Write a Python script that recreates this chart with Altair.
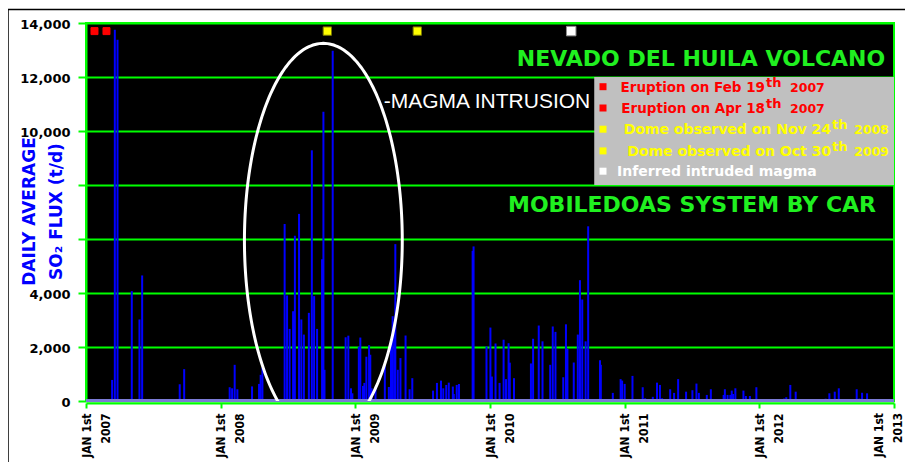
import altair as alt
import pandas as pd
import numpy as np

# ---------------- data ----------------
years = [2007.194, 2007.214, 2007.234, 2007.340, 2007.397, 2007.417, 2007.696, 2007.729, 2008.067, 2008.085,
         2008.104, 2008.124, 2008.233, 2008.285, 2008.297, 2008.310, 2008.475, 2008.493, 2008.512, 2008.538,
         2008.551, 2008.582, 2008.599, 2008.618, 2008.655, 2008.677, 2008.694, 2008.716, 2008.753, 2008.763,
         2008.771, 2008.832, 2008.928, 2008.948, 2008.968, 2008.978, 2009.026, 2009.037, 2009.057, 2009.067,
         2009.082, 2009.102, 2009.111, 2009.121, 2009.150, 2009.219, 2009.249, 2009.265, 2009.277, 2009.289,
         2009.297, 2009.315, 2009.335, 2009.373, 2009.403, 2009.423, 2009.577, 2009.606, 2009.636, 2009.653,
         2009.675, 2009.694, 2009.724, 2009.731, 2009.753, 2009.770, 2009.871, 2009.878, 2009.974, 2010.003,
         2010.014, 2010.041, 2010.071, 2010.101, 2010.119, 2010.138, 2010.147, 2010.178, 2010.304, 2010.320,
         2010.362, 2010.390, 2010.447, 2010.466, 2010.486, 2010.544, 2010.564, 2010.575, 2010.622, 2010.652,
         2010.668, 2010.685, 2010.710, 2010.729, 2010.817, 2010.823, 2010.912, 2010.970, 2010.981, 2011.000,
         2011.058, 2011.134, 2011.152, 2011.195, 2011.209, 2011.240, 2011.262, 2011.278, 2011.308, 2011.338,
         2011.367, 2011.397, 2011.456, 2011.503, 2011.533, 2011.551, 2011.610, 2011.640, 2011.649, 2011.735,
         2011.744, 2011.764, 2011.785, 2011.795, 2011.805, 2011.822, 2011.882, 2011.900, 2011.930, 2011.978,
         2012.184, 2012.200, 2012.230, 2012.270, 2012.432, 2012.492, 2012.520, 2012.560, 2012.590, 2012.723,
         2012.743, 2012.763, 2012.800]

flux = [780, 13750, 13380, 4070, 3020, 4650, 620, 1180, 510, 470,
        1340, 435, 540, 633, 970, 1240, 6555, 3910, 2670, 3325,
        6120, 6930, 3020, 2460, 3265, 9285, 3885, 2670, 5250, 10715,
        1155, 12970, 2360, 2420, 470, 285, 2010, 2350, 560, 670,
        1640, 2070, 1713, 470, 535, 1370, 520, 2270, 3140, 2915,
        5810, 1155, 1590, 2425, 435, 845, 385, 670, 755, 470,
        595, 680, 535, 260, 595, 630, 5560, 5725, 2025, 2720,
        905, 2130, 670, 2270, 810, 2140, 1420, 845, 1390, 2305,
        2795, 2210, 1340, 2760, 2560, 880, 2840, 1925, 1425, 2460,
        4475, 3760, 2210, 6470, 1510, 1340, 300, 810, 755, 633,
        930, 510, 100, 75, 155, 680, 595, 100, 75, 435,
        300, 810, 345, 400, 645, 300, 225, 435, 75, 225,
        435, 225, 225, 385, 260, 470, 385, 185, 185, 510,
        90, 140, 595, 345, 50, 85, 285, 345, 470, 435,
        90, 305, 285]

year_ticks = [2007, 2008, 2009, 2010, 2011, 2012, 2013]
flux_ticks = [0, 2000, 4000, 6000, 8000, 10000, 12000, 14000]
last_tick_label = ["JAN 1st", "2013"]

marker_years = [2007.063, 2007.152, 2008.792, 2009.460, 2010.603]
marker_kind = ["eruption", "eruption", "dome", "dome", "magma"]
marker_level = [13700, 13700, 13700, 13700, 13700]

legend_main = ["Eruption on Feb 19", "Eruption on Apr 18", "Dome observed on Nov 24",
               "Dome observed on Oct 30", "Inferred intruded magma"]
legend_sup = ["th", "th", "th", "th", ""]
legend_tail = ["2007", "2007", "2008", "2009", ""]
legend_colors = ["#ff0000", "#ff0000", "#ffff00", "#ffff00", "#ffffff"]
legend_sizes = [13.5, 13.5, 14, 14, 14]

# legend box (data coordinates) and the circled "magma intrusion" ellipse
legend_box = {"bx": 2010.774, "bx2": 2013.0, "by": 8000, "by2": 12000}
ell_center_year, ell_center_flux = 2008.7625, 5950
ell_a_year, ell_b_flux = 0.586, 7296

# ---------------- chart ----------------
W, H = 808, 378
GREEN = "#00ff00"
XFONT = "DejaVu Sans Condensed, Liberation Sans Narrow, Liberation Sans"
xs = alt.Scale(domain=[2007, 2013], nice=False, zero=False)
ys = alt.Scale(domain=[0, 14000], nice=False, zero=False)

x_axis = alt.Axis(values=year_ticks,
                  labelExpr="datum.value == 2013 ? '' : ['JAN 1st', format(datum.value, 'd')]",
                  labelAngle=270, labelAlign="right", labelBaseline="middle",
                  labelFont=XFONT, labelFontWeight="bold", labelFontSize=12, labelColor="black",
                  labelLineHeight=19, labelPadding=5, labelOverlap=False, labelFlush=False,
                  labelBound=False, tickColor=GREEN, tickSize=5, tickWidth=2,
                  domainColor=GREEN, domainWidth=2, grid=False, title="", offset=2)

y_axis = alt.Axis(values=flux_ticks,
                  labelExpr="datum.value == 6000 || datum.value == 8000 ? '' : format(datum.value, ',')",
                  labelFont="DejaVu Sans", labelFontWeight="bold", labelFontSize=13,
                  labelColor="black", labelPadding=8, labelOffset=1, labelOverlap=False,
                  tickColor=GREEN, tickSize=8, tickWidth=2, domainColor=GREEN, domainWidth=2,
                  grid=True, gridColor=GREEN, gridWidth=2,
                  title=["DAILY AVERAGE", "SO\u2082 FLUX (t/d)"], titleColor="#0000ff",
                  titleFont="DejaVu Sans", titleFontWeight="bold", titleFontSize=17,
                  titleAngle=270, titleAlign="center", titleBaseline="middle",
                  titleX=-57, titleY=188, titleLineHeight=27)

bars = alt.Chart(pd.DataFrame({"year": years, "flux": flux})).mark_rule(
    color="#0000ff", strokeWidth=2, clip=True
).encode(
    x=alt.X("year:Q", scale=xs, axis=x_axis),
    y=alt.Y("flux:Q", scale=ys, axis=y_axis),
    y2=alt.datum(0),
)

one = pd.DataFrame({"a": [0]})

baseline = alt.Chart(one).mark_rule(color="#7b7bd6", strokeWidth=3).encode(
    x=alt.value(0), x2=alt.value(W), y=alt.value(H - 0.5))

t = np.linspace(0, 2 * np.pi, 241)
ell_df = pd.DataFrame({
    "year": ell_center_year + ell_a_year * np.cos(t),
    "flux": ell_center_flux + ell_b_flux * np.sin(t),
    "i": np.arange(len(t)),
})
ellipse = alt.Chart(ell_df).mark_line(color="white", strokeWidth=3, clip=True).encode(
    x=alt.X("year:Q", scale=xs),
    y=alt.Y("flux:Q", scale=ys),
    order="i:Q",
)

box = alt.Chart(pd.DataFrame([legend_box])).mark_rect(color="#c0c0c0").encode(
    x=alt.X("bx:Q", scale=xs), x2="bx2:Q",
    y=alt.Y("by:Q", scale=ys), y2="by2:Q",
)

mk_df = pd.DataFrame({"year": marker_years, "kind": marker_kind, "flux": marker_level})
markers = alt.Chart(mk_df).mark_square(opacity=1, strokeWidth=1).encode(
    x=alt.X("year:Q", scale=xs),
    y=alt.Y("flux:Q", scale=ys),
    fill=alt.Fill("kind:N", scale=alt.Scale(domain=["eruption", "dome", "magma"],
                                            range=["#ff0000", "#ffff00", "#ffffff"]), legend=None),
    stroke=alt.Stroke("kind:N", scale=alt.Scale(domain=["eruption", "dome", "magma"],
                                                range=["#ff0000", "#7a7a00", "#909090"]), legend=None),
    size=alt.Size("kind:N", scale=alt.Scale(domain=["eruption", "dome", "magma"],
                                            range=[49, 90, 90]), legend=None),
)

layers = [bars, baseline, ellipse, box, markers]

# last x tick label, nudged inside the page edge
for j, txt in enumerate(last_tick_label):
    layers.append(alt.Chart(one).mark_text(
        text=txt, angle=270, align="right", baseline="middle", font=XFONT,
        fontWeight="bold", fontSize=12, color="black"
    ).encode(x=alt.value(W - 6 - 9.5 + 19 * j), y=alt.value(H + 12)))

# legend rows (pixel positions inside the plot area)
row_y = [64.5, 85.8, 107.0, 128.7, 149.0]
for i in range(len(legend_main)):
    c = legend_colors[i]
    layers.append(alt.Chart(one).mark_square(size=49, color=c, opacity=1).encode(
        x=alt.value(517), y=alt.value(row_y[i] - 0.8)))
    if legend_sup[i]:
        end_x = 679 if i < 2 else 745
        tail_x = 704 if i < 2 else 768
        layers.append(alt.Chart(one).mark_text(
            text=legend_main[i], align="right", baseline="middle", font="DejaVu Sans",
            fontWeight="bold", fontSize=legend_sizes[i], color=c
        ).encode(x=alt.value(end_x), y=alt.value(row_y[i])))
        layers.append(alt.Chart(one).mark_text(
            text=legend_sup[i], align="left", baseline="middle", font="DejaVu Sans",
            fontWeight="bold", fontSize=13, color=c
        ).encode(x=alt.value(end_x + 1), y=alt.value(row_y[i] - 5)))
        layers.append(alt.Chart(one).mark_text(
            text=legend_tail[i], align="left", baseline="middle", font="DejaVu Sans",
            fontWeight="bold", fontSize=12.5, color=c
        ).encode(x=alt.value(tail_x), y=alt.value(row_y[i])))
    else:
        layers.append(alt.Chart(one).mark_text(
            text=legend_main[i], align="left", baseline="middle", font="DejaVu Sans",
            fontWeight="bold", fontSize=legend_sizes[i], color=c
        ).encode(x=alt.value(531), y=alt.value(row_y[i])))

# annotation texts
layers.append(alt.Chart(one).mark_text(
    text="NEVADO DEL HUILA VOLCANO", align="center", baseline="alphabetic",
    font="DejaVu Sans", fontWeight="bold", fontSize=22, color="#20f020"
).encode(x=alt.value(615), y=alt.value(43)))
layers.append(alt.Chart(one).mark_text(
    text="MOBILEDOAS SYSTEM BY CAR", align="center", baseline="alphabetic",
    font="DejaVu Sans", fontWeight="bold", fontSize=22, color="#20f020"
).encode(x=alt.value(606), y=alt.value(189)))
layers.append(alt.Chart(one).mark_text(
    text="-MAGMA INTRUSION", align="center", baseline="alphabetic",
    font="Liberation Sans", fontSize=21, color="white"
).encode(x=alt.value(401), y=alt.value(85)))

# outer frame of the figure
layers.append(alt.Chart(one).mark_rect(fill="transparent", stroke="black", strokeWidth=1.5).encode(
    x=alt.value(-78), x2=alt.value(840), y=alt.value(-13.5), y2=alt.value(480)))

chart = alt.layer(*layers).properties(
    width=W, height=H,
    padding={"left": 78, "top": 15, "right": 11, "bottom": 61},
    autosize=alt.AutoSizeParams(type="none"),
    background="white",
).configure_view(fill="black", stroke=GREEN, strokeWidth=2)

chart.save("out.html", embed_options={"renderer": "svg", "actions": False})
